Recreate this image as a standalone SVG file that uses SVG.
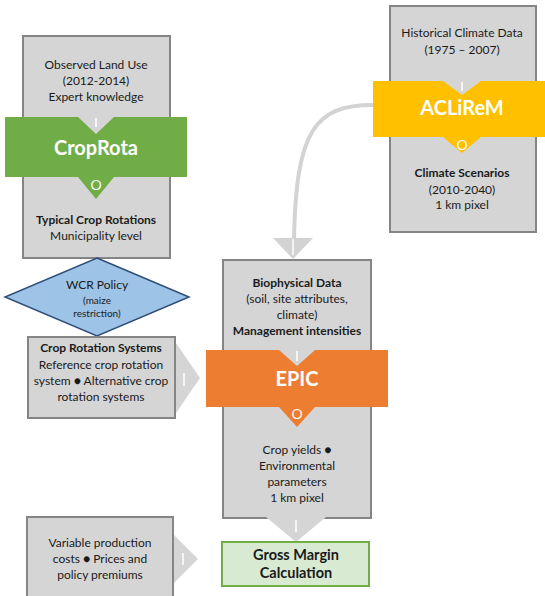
<svg xmlns="http://www.w3.org/2000/svg" width="545" height="596" viewBox="0 0 545 596">
  <style>
    .box { fill: #d5d5d5; stroke: #858585; stroke-width: 2; }
    .tri { fill: #d5d5d5; }
    .t { font-family: Lato, "Open Sans", "Liberation Sans", sans-serif; font-size: 12px; fill: #1a1a1a; text-anchor: middle; }
    .b { font-weight: bold; }
    .band { font-family: Lato, "Open Sans", "Liberation Sans", sans-serif; font-size: 20px; font-weight: bold; fill: #ffffff; text-anchor: middle; }
    .io { font-family: "Open Sans", Lato, "Liberation Sans", sans-serif; font-size: 15px; fill: #ffffff; text-anchor: middle; }
    .bar { stroke: #ffffff; stroke-width: 1.5; }
  </style>

  <!-- background -->
  <rect x="0" y="0" width="545" height="596" fill="#ffffff"/>

  <!-- connectors -->
  <g id="connectors">
    <path d="M 373 105 C 315 105, 296 130, 294 240" fill="none" stroke="#d3d3d3" stroke-width="4"/>
    <polygon points="273,238 313,238 293,259" fill="#d3d3d3"/>
    <line class="bar" x1="293" y1="239" x2="293" y2="255"/>
  </g>

  <!-- CropRota module -->
  <g id="croprota">
    <rect class="box" x="23" y="36" width="147" height="222"/>
    <text class="t" x="96" y="69">Observed Land Use</text>
    <text class="t" x="96" y="85">(2012-2014)</text>
    <text class="t" x="96" y="101">Expert knowledge</text>
    <polygon points="5,117 78,117 96,134 114,117 187,117 187,177 114,177 96,199 78,177 5,177" fill="#70ad47"/>
    <line class="bar" x1="96" y1="118" x2="96" y2="127"/>
    <text class="band" x="96" y="155">CropRota</text>
    <text class="io" x="96" y="190">O</text>
    <text class="t b" x="96" y="224">Typical Crop Rotations</text>
    <text class="t" x="96" y="240">Municipality level</text>
  </g>

  <!-- ACLiReM module -->
  <g id="aclirem">
    <rect class="box" x="390" y="6" width="146" height="226"/>
    <text class="t" x="462" y="37">Historical Climate Data</text>
    <text class="t" x="462" y="54">(1975 – 2007)</text>
    <polygon points="373,81 443,81 462,95 481,81 545,81 545,137 481,137 462,153 443,137 373,137" fill="#ffc000"/>
    <line class="bar" x1="462" y1="82" x2="462" y2="91"/>
    <text class="band" x="462" y="115">ACLiReM</text>
    <text class="io" x="462" y="150">O</text>
    <text class="t b" x="462" y="177">Climate Scenarios</text>
    <text class="t" x="462" y="194">(2010-2040)</text>
    <text class="t" x="462" y="209">1 km pixel</text>
  </g>

  <!-- WCR policy decision -->
  <g id="wcr-policy">
    <polygon points="97,258 189,297 97,336 5,297" fill="#9dc3e6" stroke="#2f4d7a" stroke-width="1.5"/>
    <text class="t" x="97" y="289">WCR Policy</text>
    <text class="t" x="97" y="304" style="font-size:10px">(maize</text>
    <text class="t" x="97" y="317" style="font-size:10px">restriction)</text>
  </g>

  <!-- Crop rotation systems input -->
  <g id="crop-rotation-systems">
    <rect class="box" x="28" y="337" width="147" height="81"/>
    <polygon class="tri" points="176,343 200,378 176,413"/>
    <line class="bar" x1="184" y1="373" x2="184" y2="386"/>
    <text class="t b" x="101" y="352">Crop Rotation Systems</text>
    <text class="t" x="101" y="369">Reference crop rotation</text>
    <text class="t" x="101" y="385">system ● Alternative crop</text>
    <text class="t" x="101" y="401">rotation systems</text>
  </g>

  <!-- EPIC module -->
  <g id="epic">
    <rect class="box" x="223" y="260" width="148" height="258"/>
    <polygon class="tri" points="266,517 326,517 296,542"/>
    <line class="bar" x1="296" y1="520" x2="296" y2="532"/>
    <text class="t b" x="297" y="287">Biophysical Data</text>
    <text class="t" x="297" y="303">(soil, site attributes,</text>
    <text class="t" x="297" y="319">climate)</text>
    <text class="t b" x="297" y="335">Management intensities</text>
    <polygon points="206,350 279,350 297,366 315,350 388,350 388,407 315,407 297,427 279,407 206,407" fill="#ed7d31"/>
    <line class="bar" x1="297" y1="351" x2="297" y2="361"/>
    <text class="band" x="297" y="386">EPIC</text>
    <text class="io" x="297" y="419">O</text>
    <text class="t" x="297" y="454">Crop yields ●</text>
    <text class="t" x="297" y="470">Environmental</text>
    <text class="t" x="297" y="486">parameters</text>
    <text class="t" x="297" y="502">1 km pixel</text>
  </g>

  <!-- Economic input -->
  <g id="variable-costs">
    <rect class="box" x="27" y="517" width="146" height="85"/>
    <polygon class="tri" points="174,535 198,559 174,583"/>
    <line class="bar" x1="183" y1="553" x2="183" y2="565"/>
    <text class="t" x="100" y="547">Variable production</text>
    <text class="t" x="100" y="563">costs ● Prices and</text>
    <text class="t" x="100" y="579">policy premiums</text>
  </g>

  <!-- Gross margin result -->
  <g id="gross-margin">
    <rect x="222" y="542" width="147" height="44" fill="#d9ead3" stroke="#70ad47" stroke-width="2"/>
    <text class="t b" x="296" y="560" style="font-size:14.5px">Gross Margin</text>
    <text class="t b" x="296" y="578" style="font-size:14.5px">Calculation</text>
  </g>
</svg>
